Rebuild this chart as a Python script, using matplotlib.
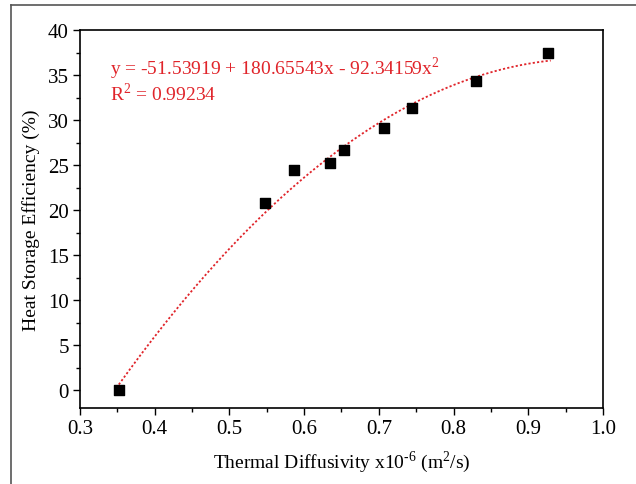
import numpy as np
import matplotlib
matplotlib.use("Agg")
import matplotlib.pyplot as plt
from matplotlib.lines import Line2D

plt.rcParams['font.family'] = ['Liberation Serif', 'DejaVu Serif']
plt.rcParams['mathtext.fontset'] = 'custom'
plt.rcParams['mathtext.rm'] = 'Liberation Serif'

diffusivity = [0.352, 0.548, 0.586, 0.634, 0.653, 0.707, 0.745, 0.830, 0.926]
efficiency = [0.0, 20.8, 24.4, 25.2, 26.7, 29.1, 31.3, 34.3, 37.4]
fit_coeffs = [-51.53919, 180.65543, -92.34159]
r_squared = 0.99234
x_ticks = [0.3, 0.4, 0.5, 0.6, 0.7, 0.8, 0.9, 1.0]
y_ticks = [0, 5, 10, 15, 20, 25, 30, 35, 40]

fig = plt.figure(figsize=(6.36, 4.85), dpi=100)
ax = fig.add_axes([80/636, 1-409/485, (603-80)/636, (409-31)/485])

xf = np.linspace(min(diffusivity), 0.93, 200)
yf = fit_coeffs[0] + fit_coeffs[1]*xf + fit_coeffs[2]*xf**2
ax.plot(xf, yf, color='#e0242a', linestyle=(0, (1.2, 1.2)), lw=1.3, zorder=2)
ax.scatter(diffusivity, efficiency, marker='s', s=42, color='black', zorder=3)

ax.set_xlim(0.3, 1.0)
ax.set_ylim(-2, 40)
ax.set_xticks(x_ticks)
ax.set_xticklabels([f"{v:.1f}" for v in x_ticks])
ax.set_yticks(y_ticks)
ax.set_xticks(np.arange(0.35, 1.0, 0.1), minor=True)
ax.set_yticks(np.arange(2.5, 40, 5), minor=True)
ax.tick_params(which='major', direction='out', length=5, width=1, labelsize=15, pad=3)
ax.tick_params(which='minor', direction='out', length=3, width=1)
for s in ax.spines.values():
    s.set_linewidth(1.2)

ax.set_xlabel("Thermal Diffusivity x10$^{\\mathregular{\u2010}\\mathregular{6}}$ (m$^{\\mathregular{2}}$/s)",
              fontsize=14, labelpad=7)
ax.set_ylabel("Heat Storage Efficiency (%)", fontsize=14, labelpad=6)

ax.text(0.057, 0.884, r"y = -51.53919 + 180.65543x - 92.34159x$^{\mathregular{2}}$",
        transform=ax.transAxes, color='#e0242a', fontsize=14)
ax.text(0.057, 0.815, r"R$^{\mathregular{2}}$ = " + f"{r_squared}",
        transform=ax.transAxes, color='#e0242a', fontsize=14)

fig.add_artist(Line2D([11/636, 11/636], [0, 1-6/485], transform=fig.transFigure, color='#555555', lw=1.2))
fig.add_artist(Line2D([11/636, 1], [1-6/485, 1-6/485], transform=fig.transFigure, color='#555555', lw=1.2))

fig.savefig("out.png", dpi=100)
